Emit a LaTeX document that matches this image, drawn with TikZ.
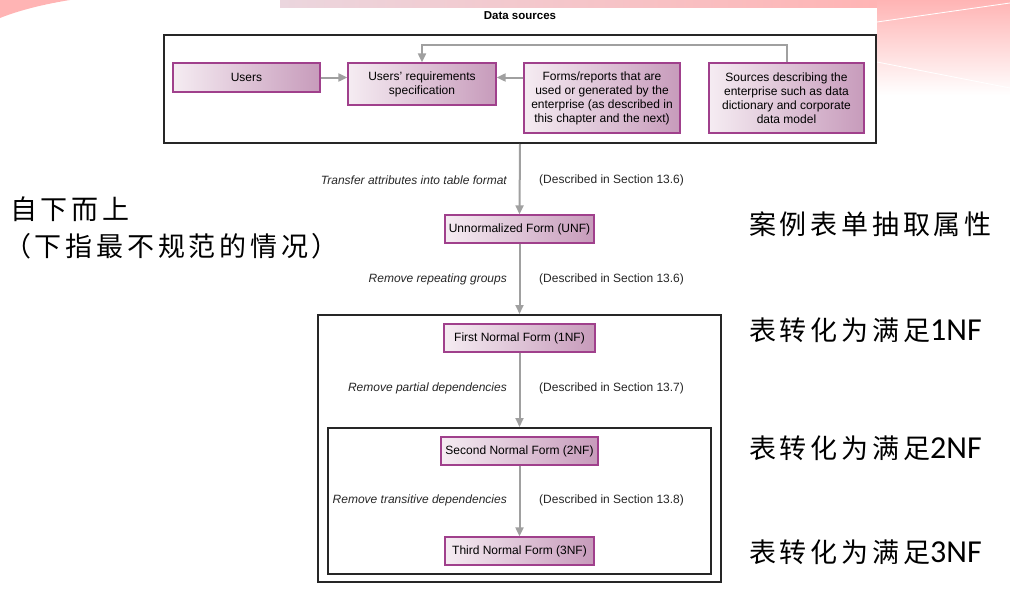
\documentclass[tikz,border=0pt]{standalone}
\usepackage{fontspec}
\setmainfont{Liberation Sans}
\newfontfamily\cjk[LetterSpace=14]{Noto Sans CJK SC}
\newfontfamily\calib{Carlito}
\usepackage{tikz}
\usetikzlibrary{positioning,arrows.meta,calc,backgrounds}

\definecolor{formedge}{HTML}{A0408C}
\definecolor{formlight}{HTML}{F5ECF2}
\definecolor{formdark}{HTML}{C79BBB}
\definecolor{flowgray}{HTML}{A0A0A0}
\definecolor{slidepink}{HTML}{FFB4B4}
\definecolor{slidemauve}{HTML}{EBD6DE}

\begin{document}
\begin{tikzpicture}[
  x=1pt, y=-1pt,
  font=\fontsize{12}{14}\selectfont,
  form/.style={rectangle, draw=formedge, line width=1.3pt, left color=formlight,
               right color=formdark, align=center, inner sep=2pt},
  frame/.style={rectangle, draw=black!85, line width=2pt},
  flow/.style={-{Triangle[length=9pt,width=8pt]}, line width=2pt, draw=flowgray},
  hint/.style={font=\fontsize{12}{14}\selectfont\itshape, anchor=east, inner sep=0pt, text=black!85},
  sect/.style={font=\fontsize{12}{14}\selectfont, anchor=west, inner sep=0pt, text=black!85},
  side/.style={font=\fontsize{27}{31}\selectfont\cjk, anchor=west, inner sep=0pt}
]
\useasboundingbox (0,0) rectangle (1010,589);

% Data sources
\node[font=\fontsize{11.5}{14}\selectfont\bfseries] (title) at (520,16) {Data sources};
\node[frame, minimum width=712, minimum height=108] (srcframe) at (520,89) {};
\node[form, minimum width=147, minimum height=29] (users)   at (246.5,77.5) {Users};
\node[form, minimum width=148, minimum height=42] (reqspec) at (422,84) {Users' requirements\\specification};
\node[form, minimum width=156, minimum height=70] (forms)   at (602,98) {Forms/reports that are\\used or generated by the\\enterprise (as described in\\this chapter and the next)};
\node[form, minimum width=155, minimum height=70] (entsrc)  at (786.5,98) {Sources describing the\\enterprise such as data\\dictionary and corporate\\data model};

% Normal forms
\node[form, minimum width=149, minimum height=28] (unf) at (519.5,229) {Unnormalized Form (UNF)};
\node[frame, minimum width=403, minimum height=267] (nf1frame) at (519.5,448.5) {};
\node[form, minimum width=151, minimum height=28] (nf1) at (519.5,338) {First Normal Form (1NF)};
\node[frame, minimum width=383, minimum height=146] (nf2frame) at (519.5,501) {};
\node[form, minimum width=157, minimum height=28] (nf2) at (519.5,451) {Second Normal Form (2NF)};
\node[form, minimum width=149, minimum height=28] (nf3) at (519.5,551) {Third Normal Form (3NF)};

% Step labels
\node[hint] (h1) at (507,180) {Transfer attributes into table format};
\node[sect] (s1) at (539,180) {(Described in Section 13.6)};
\node[hint] (h2) at (507,279) {Remove repeating groups};
\node[sect] (s2) at (539,279) {(Described in Section 13.6)};
\node[hint] (h3) at (507,388) {Remove partial dependencies};
\node[sect] (s3) at (539,388) {(Described in Section 13.7)};
\node[hint] (h4) at (507,500) {Remove transitive dependencies};
\node[sect] (s4) at (539,500) {(Described in Section 13.8)};

% Side notes
\node[side] (bottomup)   at (10,209) {自下而上};
\node[side] (bottomnote) at (4,246) {（下指最不规范的情况）};
\node[side] (caseattr) at (749,224) {案例表单抽取属性};
\node[side] (to1nf) at (749,330) {表转化为满足{\calib\fontsize{32}{34}\selectfont 1NF}};
\node[side] (to2nf) at (749,448) {表转化为满足{\calib\fontsize{32}{34}\selectfont 2NF}};
\node[side] (to3nf) at (749,552) {表转化为满足{\calib\fontsize{32}{34}\selectfont 3NF}};

% Flow arrows
\draw[flow] (users) -- (users -| reqspec.west);
\draw[flow] (forms.west |- users) -- (reqspec.east |- users);
\draw[flow] (entsrc.north) -- ++(0,-17) -| (reqspec.north);
\draw[flow] (srcframe.south) -- (unf.north);
\draw[flow] (unf) -- (nf1frame.north);
\draw[flow] (nf1) -- (nf2frame.north);
\draw[flow] (nf2) -- (nf3);

% Slide background
\begin{scope}[on background layer]
\fill[slidepink] (0,0) -- (70,0) .. controls (45,4) and (20,10) .. (0,18) -- cycle;
\shade[left color=slidemauve, right color=slidepink] (280,0) rectangle (877,7);
\shade[top color=slidepink, middle color=slidemauve, bottom color=white] (877,0) rectangle (1010,95);
\draw[white, line width=0.8pt] (877,22) -- (1010,3);
\draw[white, line width=0.8pt] (877,62) -- (1010,88);
\end{scope}
\end{tikzpicture}
\end{document}
